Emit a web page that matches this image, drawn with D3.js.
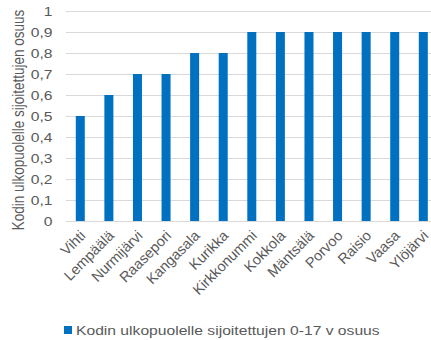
<!DOCTYPE html>
<html>
<head>
<meta charset="utf-8">
<script src="https://cdn.jsdelivr.net/npm/d3@7"></script>
<style>
  body { margin: 0; background: #fff; }
  text { font-family: "Liberation Sans", Arial, sans-serif; fill: #595959; font-size: 13.5px; }
</style>
</head>
<body>
<div class="chart"></div>
<script>
'use strict'

const municipalities = ['Vihti', 'Lempäälä', 'Nurmijärvi', 'Raasepori', 'Kangasala', 'Kurikka',
  'Kirkkonummi', 'Kokkola', 'Mäntsälä', 'Porvoo', 'Raisio', 'Vaasa', 'Ylöjärvi']
const shares = [0.5, 0.6, 0.7, 0.7, 0.8, 0.8, 0.9, 0.9, 0.9, 0.9, 0.9, 0.9, 0.9]
const yTicks = [0, 0.1, 0.2, 0.3, 0.4, 0.5, 0.6, 0.7, 0.8, 0.9, 1]
const seriesName = 'Kodin ulkopuolelle sijoitettujen 0-17 v osuus'
const yTitle = 'Kodin ulkopuolelle sijoitettujen osuus'

const width = 431
const height = 340
const blue = '#0070c0'
// the source picture is a bit wider than tall, text looks stretched sideways
const stretch = 'scale(1.16,1)'

const x = d3.scaleBand()
    .domain(municipalities)
    .range([ 66, 437.6 ])
    .paddingInner(0.685)
    .paddingOuter(0.3425)

const y = d3.scaleLinear()
    .domain([ 0, 1 ])
    .range([ 221, 11 ])

const fmt = d => String(+d.toFixed(1)).replace('.', ',')

const svg = d3.select('.chart').append('svg')
    .attr('width', width)
    .attr('height', height)

// gridlines
svg.selectAll('.grid')
    .data(yTicks)
  .enter().append('line')
    .attr('class', 'grid')
    .attr('x1', 66)
    .attr('x2', width)
    .attr('y1', d => Math.round(y(d)) + 0.5)
    .attr('y2', d => Math.round(y(d)) + 0.5)
    .attr('stroke', '#d9d9d9')
    .attr('stroke-width', 1)

// y tick labels
svg.selectAll('.ylab')
    .data(yTicks)
  .enter().append('text')
    .attr('class', 'ylab')
    .attr('transform', d => 'translate(52.5,' + y(d) + ') ' + stretch)
    .attr('dy', '0.36em')
    .attr('text-anchor', 'end')
    .text(fmt)

// bars
svg.selectAll('.bar')
    .data(shares)
  .enter().append('rect')
    .attr('class', 'bar')
    .attr('x', (d, i) => x(municipalities[i]))
    .attr('width', x.bandwidth())
    .attr('y', d => y(d))
    .attr('height', d => y(0) - y(d))
    .attr('fill', blue)

// category labels, kept at a true 45 degrees
svg.selectAll('.xlab')
    .data(municipalities)
  .enter().append('text')
    .attr('class', 'xlab')
    .attr('transform', d => 'translate(' + (x(d) + x.bandwidth() / 2 + 2.5) + ',233) rotate(-45)')
    .attr('text-anchor', 'end')
    .attr('dy', '0.35em')
    .style('font-size', '14.5px')
    .text(d => d)

// y axis title
svg.append('text')
    .attr('transform', 'translate(19,120) ' + stretch + ' rotate(-90)')
    .attr('text-anchor', 'middle')
    .attr('dy', '0.35em')
    .text(yTitle)

// legend
const legend = svg.append('g')
    .attr('transform', 'translate(64,326)')
legend.append('rect')
    .attr('width', 8)
    .attr('height', 8)
    .attr('fill', blue)
legend.append('text')
    .attr('transform', 'translate(12,4) ' + stretch)
    .attr('dy', '0.36em')
    .text(seriesName)
</script>
</body>
</html>
